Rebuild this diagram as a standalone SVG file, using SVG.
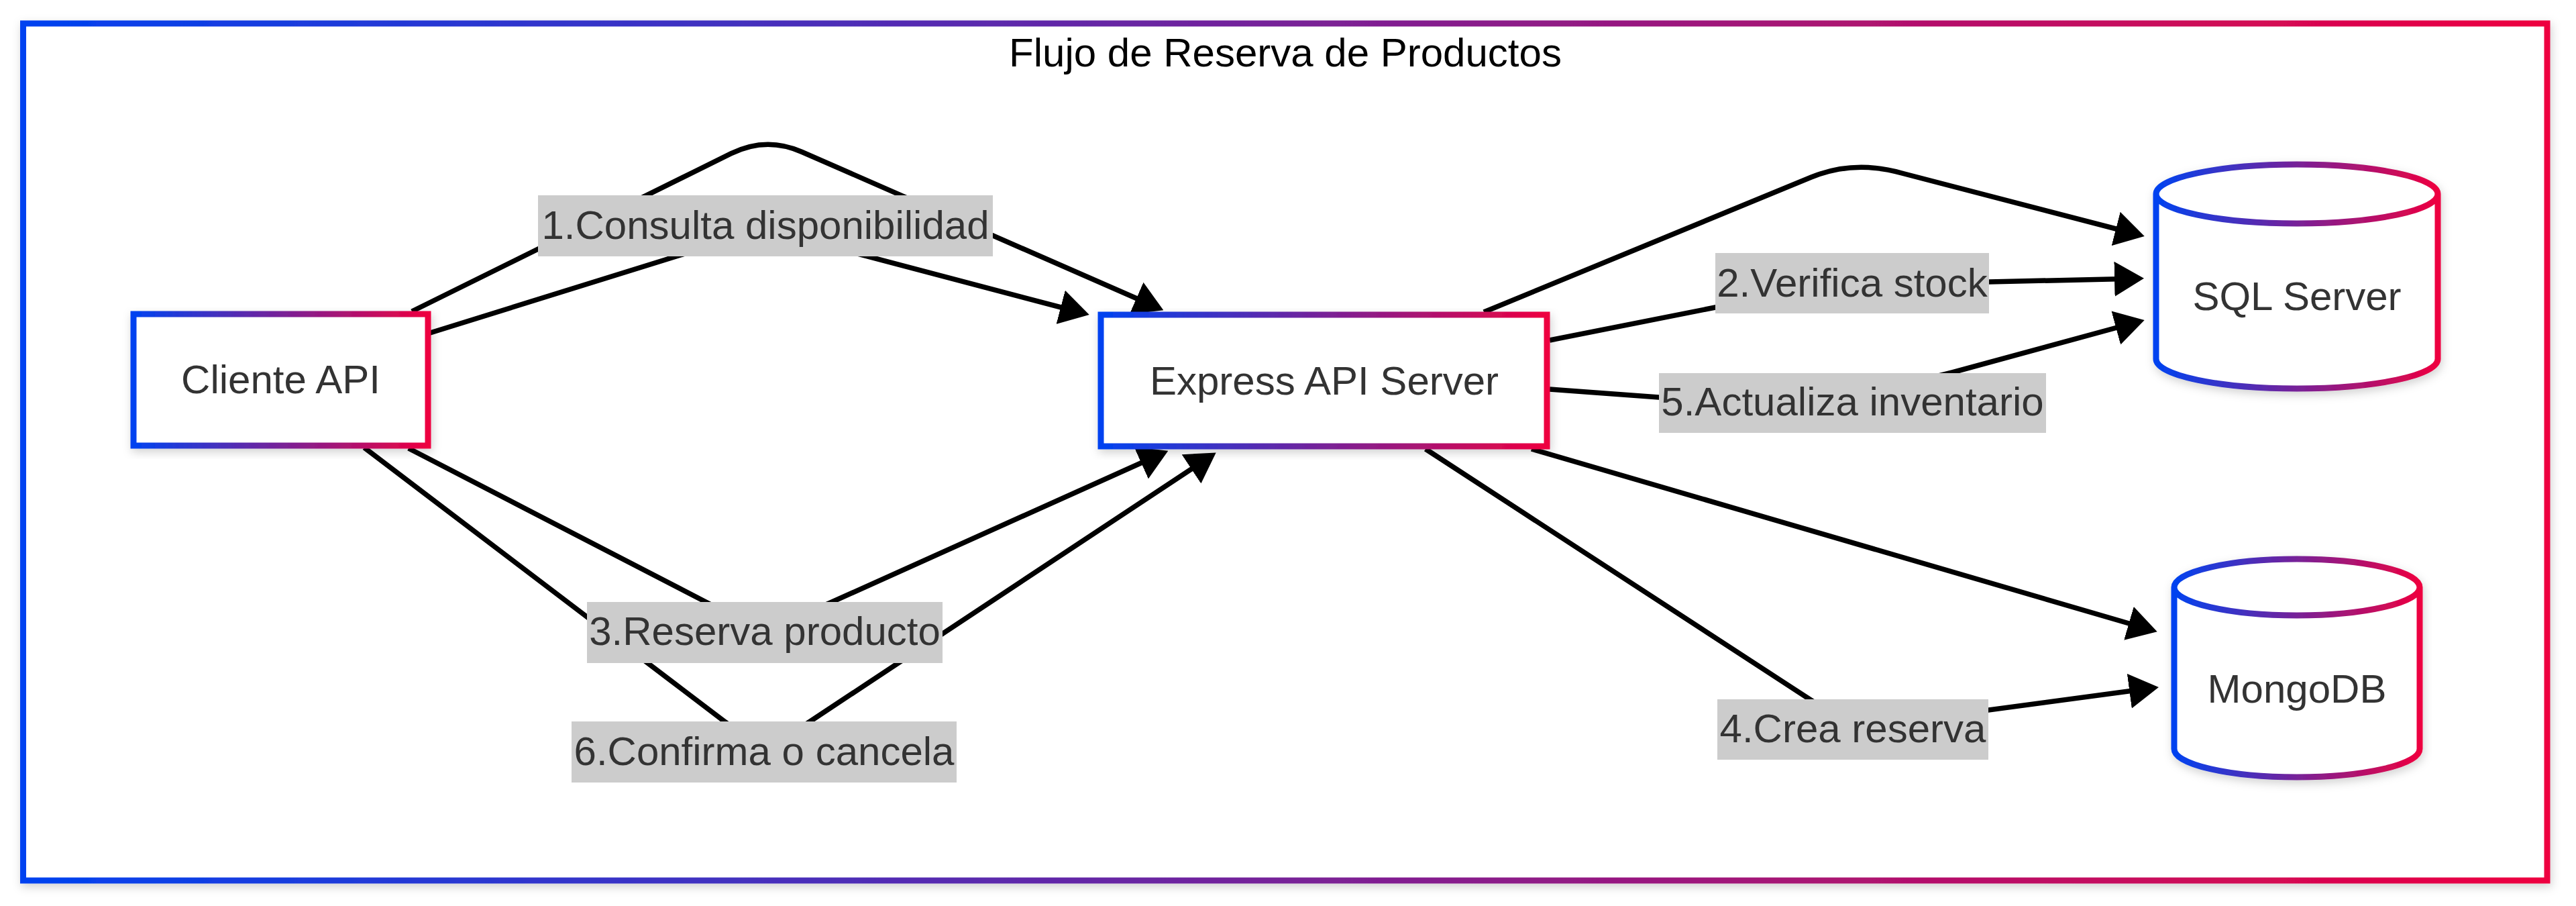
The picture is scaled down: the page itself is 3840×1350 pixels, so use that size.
<svg xmlns="http://www.w3.org/2000/svg" width="3840" height="1350" viewBox="0 0 3840 1350">
<defs>
<linearGradient id="grad" x1="0" y1="0" x2="1" y2="0">
<stop offset="0" stop-color="#0043F0"/>
<stop offset="1" stop-color="#EE0040"/>
</linearGradient>
<filter id="shadow" x="-5%" y="-5%" width="110%" height="115%">
<feDropShadow dx="2" dy="5" stdDeviation="7" flood-color="#000" flood-opacity="0.18"/>
</filter>
<marker id="arrow" viewBox="0 0 44 52" refX="36" refY="26" markerWidth="44" markerHeight="52" markerUnits="userSpaceOnUse" orient="auto">
<path d="M0,0 L44,26 L0,52 Z" fill="#000"/>
</marker>
</defs>
<style>
.frame{fill:#fff;stroke:url(#grad);stroke-width:9;filter:url(#shadow);}
.node{fill:#fff;stroke:url(#grad);stroke-width:9;filter:url(#shadow);}
.ntext{font-family:"Liberation Sans",Arial,sans-serif;font-size:60px;fill:#333;text-anchor:middle;}
.title{font-family:"Liberation Sans",Arial,sans-serif;font-size:60px;fill:#000;text-anchor:middle;}
.edge{fill:none;stroke:#000;stroke-width:7.5;marker-end:url(#arrow);}
.lbg{fill:#cccccc;}
.ltext{font-family:"Liberation Sans",Arial,sans-serif;font-size:60px;fill:#333;text-anchor:middle;}
</style>
<rect width="3840" height="1350" fill="#fff"/>
<g id="frame">
<rect class="frame" x="34.5" y="35" width="3762.5" height="1277"/>
<text class="title" x="1916" y="99">Flujo de Reserva de Productos</text>
</g>
<g id="connectors">
<path class="edge" d="M614,464 L1090,228.7 Q1142,203 1195,226.2 L1727,459"/>
<path class="edge" d="M638,497 L1040,372 Q1140,341 1240,368 L1616,467"/>
<path class="edge" d="M609,668 L1060,901 Q1140,942 1220,906 L1734,675"/>
<path class="edge" d="M543,667 L1080,1075 Q1139,1120 1200,1080 L1806,679"/>
<path class="edge" d="M2212,465 L2700,264 Q2764,238 2835,258 L3189,350"/>
<path class="edge" d="M2310,507 L2557,458 Q2761,420 2965,420 L3188,415"/>
<path class="edge" d="M2310,580 L2473,592 Q2700,610 2910,555 L3189,479"/>
<path class="edge" d="M2283,669 L3208,939"/>
<path class="edge" d="M2125,669 L2710,1050 Q2762,1085 2830,1076 L3210,1025"/>
</g>
<g id="edge-labels">
<g id="label-1"><rect class="lbg" x="802" y="291" width="678" height="91"/><text class="ltext" x="1141" y="356">1.Consulta disponibilidad</text></g>
<g id="label-2"><rect class="lbg" x="2557" y="377" width="408" height="90"/><text class="ltext" x="2761" y="442">2.Verifica stock</text></g>
<g id="label-3"><rect class="lbg" x="875" y="897" width="530" height="91"/><text class="ltext" x="1140" y="961">3.Reserva producto</text></g>
<g id="label-4"><rect class="lbg" x="2560" y="1042" width="404" height="90"/><text class="ltext" x="2762" y="1106">4.Crea reserva</text></g>
<g id="label-5"><rect class="lbg" x="2473" y="556" width="577" height="89"/><text class="ltext" x="2761.5" y="619">5.Actualiza inventario</text></g>
<g id="label-6"><rect class="lbg" x="852" y="1075" width="574" height="91"/><text class="ltext" x="1139" y="1140">6.Confirma o cancela</text></g>
</g>
<g id="node-cliente">
<rect class="node" x="199" y="468" width="439" height="196"/>
<text class="ntext" x="418.5" y="586">Cliente API</text>
</g>
<g id="node-express">
<rect class="node" x="1641" y="469" width="665" height="196"/>
<text class="ntext" x="1974" y="588">Express API Server</text>
</g>
<g id="node-sql">
<path class="node" d="M3214,289 a210,44 0 0,0 420,0 a210,44 0 0,0 -420,0 l0,246 a210,44 0 0,0 420,0 l0,-246"/>
<text class="ntext" x="3424" y="462">SQL Server</text>
</g>
<g id="node-mongo">
<path class="node" d="M3241,875 a183,42 0 0,0 366,0 a183,42 0 0,0 -366,0 l0,241 a183,42 0 0,0 366,0 l0,-241"/>
<text class="ntext" x="3424" y="1047">MongoDB</text>
</g>
</svg>
